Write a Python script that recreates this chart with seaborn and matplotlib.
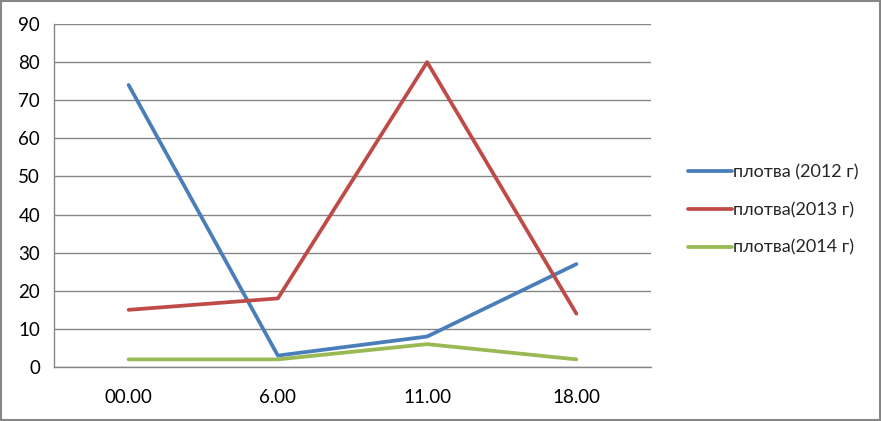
import pandas as pd
import matplotlib.pyplot as plt
import matplotlib.patches as patches
import seaborn as sns

# values
times = ['00.00', '6.00', '11.00', '18.00']
roach_2012 = [74, 3, 8, 27]
roach_2013 = [15, 18, 80, 14]
roach_2014 = [2, 2, 6, 2]
series_names = ['плотва (2012 г)', 'плотва(2013 г)', 'плотва(2014 г)']
colors = ['#4A7EBB', '#BE4B48', '#98B954']

rows = []
for name, vals in zip(series_names, [roach_2012, roach_2013, roach_2014]):
    for i, (t, v) in enumerate(zip(times, vals)):
        rows.append({'pos': i, 'time': t, 'count': v, 'series': name})
df = pd.DataFrame(rows)

sns.set_style('white')
plt.rcParams['font.family'] = ['Lato', 'DejaVu Sans']

fig = plt.figure(figsize=(8.82, 4.21), dpi=100)
ax = fig.add_axes([54 / 882, 1 - 367 / 421, (651 - 54) / 882, (367 - 24) / 421])

sns.lineplot(data=df, x='pos', y='count', hue='series', palette=colors,
             linewidth=2.7, ax=ax, legend=True)

ax.set_xlim(-0.5, 3.5)
ax.set_ylim(0, 90)
ax.set_yticks(range(0, 91, 10))
ax.set_xticks(range(len(times)))
ax.set_xticklabels(times)
ax.set_xticks([-0.5, 0.5, 1.5, 2.5, 3.5], minor=True)
ax.tick_params(axis='x', which='major', length=0, pad=16, labelsize=13.5, colors='black')
ax.tick_params(axis='x', which='minor', length=7, width=1, color='#868686', direction='out')
ax.tick_params(axis='y', length=6, width=1, color='#868686', pad=4, labelsize=13.5, colors='black')
ax.yaxis.grid(True, color='#868686', linewidth=1)
ax.set_axisbelow(True)
ax.set_xlabel('')
ax.set_ylabel('')
for s in ['top', 'right']:
    ax.spines[s].set_visible(False)
for s in ['left', 'bottom']:
    ax.spines[s].set_color('#868686')
    ax.spines[s].set_linewidth(1)

leg = ax.legend(loc='center left', bbox_to_anchor=(672 / 882, 1 - 210 / 421),
                bbox_transform=fig.transFigure, frameon=False, fontsize=13,
                handlelength=2.4, handletextpad=0.1, labelspacing=1.2)
for line in leg.get_lines():
    line.set_linewidth(2.7)

fig.patches.append(patches.Rectangle((0.001, 0.002), 0.997, 0.995, transform=fig.transFigure,
                                     fill=False, edgecolor='#868686', linewidth=1.5))

fig.savefig('out.png', dpi=100)
